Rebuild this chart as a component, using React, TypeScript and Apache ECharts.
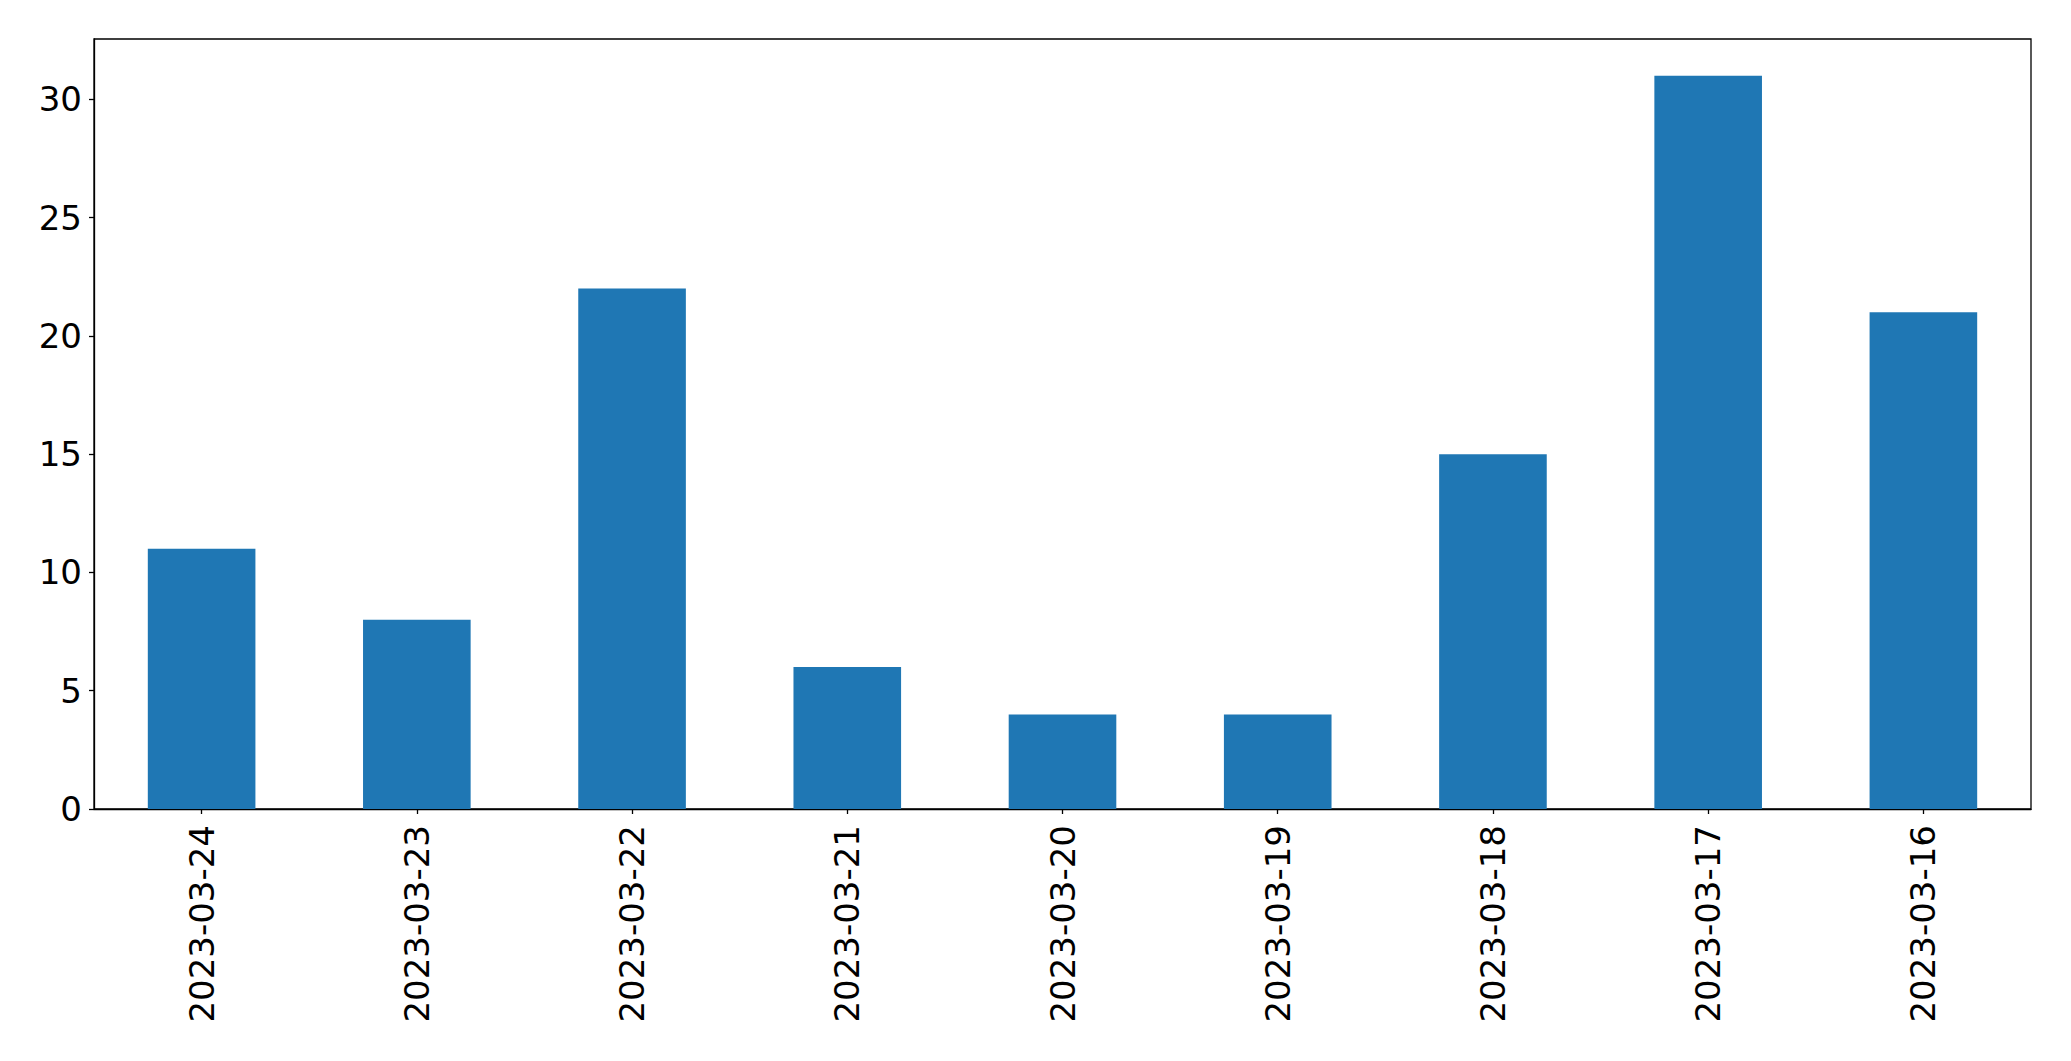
import React, { useEffect, useRef } from "react";
import * as echarts from "echarts";

const categories = [
  "2023-03-24",
  "2023-03-23",
  "2023-03-22",
  "2023-03-21",
  "2023-03-20",
  "2023-03-19",
  "2023-03-18",
  "2023-03-17",
  "2023-03-16",
];
const counts = [11, 8, 22, 6, 4, 4, 15, 31, 21];
const yMax = 32.55;
const yInterval = 5;

export default function App() {
  const ref = useRef<HTMLDivElement>(null);
  useEffect(() => {
    if (!ref.current) return;
    const chart = echarts.init(ref.current, undefined, { renderer: "svg" });
    const font = "DejaVu Sans";
    chart.setOption({
      animation: false,
      backgroundColor: "#ffffff",
      grid: {
        left: 94,
        top: 39,
        width: 1937,
        height: 770,
        show: true,
        borderColor: "#000000",
        borderWidth: 1.3,
        backgroundColor: "transparent",
        containLabel: false,
      },
      xAxis: {
        type: "category",
        data: categories,
        axisLine: { show: true, lineStyle: { color: "#000", width: 1.3 } },
        axisTick: { show: true, alignWithLabel: true, length: 5, lineStyle: { color: "#000", width: 1.3 } },
        axisLabel: {
          rotate: 90,
          margin: 16,
          color: "#000",
          fontSize: 34,
          fontFamily: font,
        },
        splitLine: { show: false },
      },
      yAxis: {
        type: "value",
        min: 0,
        max: yMax,
        interval: yInterval,
        axisLine: { show: true, lineStyle: { color: "#000", width: 1.3 } },
        axisTick: { show: true, length: 5, lineStyle: { color: "#000", width: 1.3 } },
        axisLabel: {
          margin: 12,
          color: "#000",
          fontSize: 34,
          fontFamily: font,
          showMaxLabel: false,
        },
        splitLine: { show: false },
      },
      series: [
        {
          type: "bar",
          data: counts,
          barWidth: "50%",
          itemStyle: { color: "#1f77b4" },
        },
      ],
    });
    return () => chart.dispose();
  }, []);
  return (
    <div
      ref={ref}
      style={{ position: "absolute", left: 0, top: 0, width: 2071, height: 1061 }}
    />
  );
}
